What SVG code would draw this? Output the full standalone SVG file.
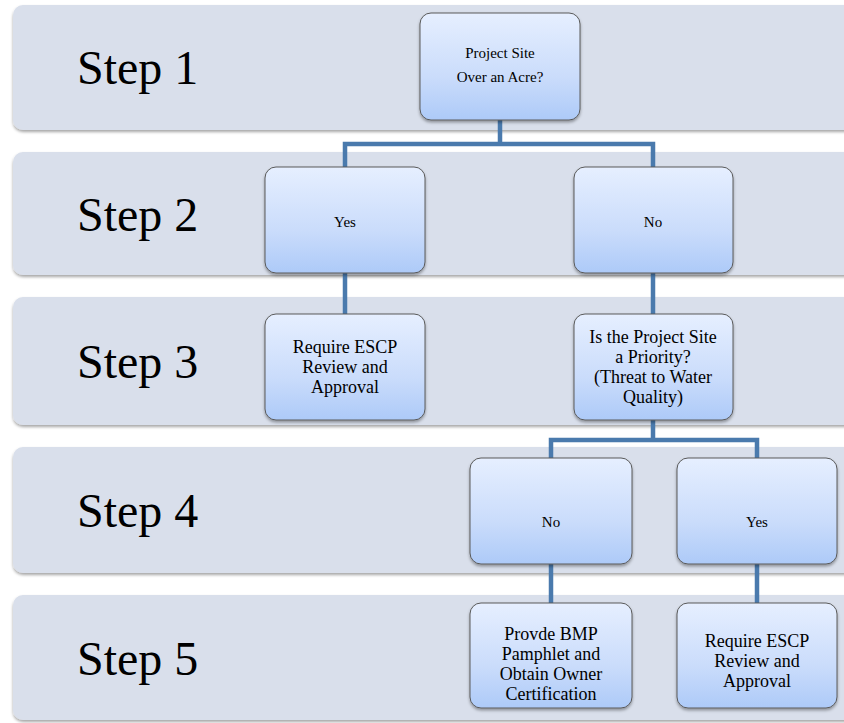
<svg xmlns="http://www.w3.org/2000/svg" width="844" height="723" viewBox="0 0 844 723">
<defs>
<linearGradient id="bx" x1="0" y1="0" x2="0" y2="1">
<stop offset="0" stop-color="#e6efff"/>
<stop offset="0.6" stop-color="#cadcfb"/>
<stop offset="1" stop-color="#adcaf8"/>
</linearGradient>
<filter id="sh" x="-10%" y="-10%" width="120%" height="130%">
<feDropShadow dx="0" dy="2" stdDeviation="1.5" flood-color="#000" flood-opacity="0.35"/>
</filter>
</defs>
<style>
.band{fill:#d9dfeb;filter:url(#sh);}
.box{fill:url(#bx);stroke:#5a5a5a;stroke-width:1;filter:url(#sh);}
.step{font-family:"Liberation Serif",serif;font-size:48px;fill:#000;}
.t{font-family:"Liberation Serif",serif;font-size:18px;fill:#000;text-anchor:middle;}
.s{font-family:"Liberation Serif",serif;font-size:15px;fill:#000;text-anchor:middle;}
.c{fill:none;stroke:#4a7aad;stroke-width:4.5;}
</style>
<rect width="844" height="723" fill="#fff"/>
<g id="bands">
<rect class="band" x="13" y="5" width="845" height="125" rx="10"/>
<rect class="band" x="13" y="152" width="845" height="123" rx="10"/>
<rect class="band" x="13" y="297" width="845" height="128" rx="10"/>
<rect class="band" x="13" y="447" width="845" height="126" rx="10"/>
<rect class="band" x="13" y="595" width="845" height="125" rx="10"/>
<text class="step" x="77" y="84">Step 1</text>
<text class="step" x="77" y="231">Step 2</text>
<text class="step" x="77" y="378">Step 3</text>
<text class="step" x="77" y="527">Step 4</text>
<text class="step" x="77" y="675">Step 5</text>
</g>
<g id="connectors">
<path class="c" d="M500,120 V144 H345 V167 M500,144 H653 V167"/>
<path class="c" d="M345,273 V314"/>
<path class="c" d="M653,273 V314"/>
<path class="c" d="M653,420 V440 H551 V458 M653,440 H757 V458"/>
<path class="c" d="M551,564 V603"/>
<path class="c" d="M757,564 V603"/>
</g>
<g id="n1">
<rect class="box" x="420" y="13" width="160" height="107" rx="11"/>
<text class="s" x="500" y="58">Project Site</text>
<text class="s" x="500" y="82">Over an Acre?</text>
</g>
<g id="n2yes">
<rect class="box" x="265" y="167" width="160" height="106" rx="11"/>
<text class="s" x="345" y="227">Yes</text>
</g>
<g id="n2no">
<rect class="box" x="574" y="167" width="159" height="106" rx="11"/>
<text class="s" x="653" y="227">No</text>
</g>
<g id="n3req">
<rect class="box" x="265" y="314" width="160" height="106" rx="11"/>
<text class="t" x="345" y="353">Require ESCP</text>
<text class="t" x="345" y="373">Review and</text>
<text class="t" x="345" y="393">Approval</text>
</g>
<g id="n3pri">
<rect class="box" x="574" y="314" width="159" height="106" rx="11"/>
<text class="t" x="653" y="343">Is the Project Site</text>
<text class="t" x="653" y="363">a Priority?</text>
<text class="t" x="653" y="383">(Threat to Water</text>
<text class="t" x="653" y="403">Quality)</text>
</g>
<g id="n4no">
<rect class="box" x="470" y="458" width="162" height="106" rx="11"/>
<text class="s" x="551" y="527">No</text>
</g>
<g id="n4yes">
<rect class="box" x="677" y="458" width="160" height="106" rx="11"/>
<text class="s" x="757" y="527">Yes</text>
</g>
<g id="n5bmp">
<rect class="box" x="470" y="603" width="162" height="105" rx="11"/>
<text class="t" x="551" y="640">Provde BMP</text>
<text class="t" x="551" y="660">Pamphlet and</text>
<text class="t" x="551" y="680">Obtain Owner</text>
<text class="t" x="551" y="700">Certification</text>
</g>
<g id="n5req">
<rect class="box" x="677" y="603" width="160" height="105" rx="11"/>
<text class="t" x="757" y="647">Require ESCP</text>
<text class="t" x="757" y="667">Review and</text>
<text class="t" x="757" y="687">Approval</text>
</g>
</svg>
